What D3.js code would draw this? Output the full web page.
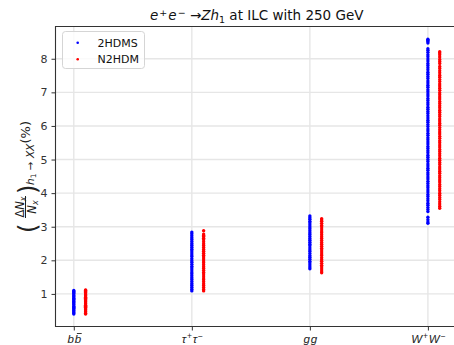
<!DOCTYPE html>
<html>
<head>
<meta charset="utf-8">
<script src="https://cdn.jsdelivr.net/npm/d3@7"></script>
<style>
  html, body { margin: 0; padding: 0; background: #fff; }
  svg { display: block; font-family: "DejaVu Sans", sans-serif; }
</style>
</head>
<body>
<svg id="chart" width="454" height="345"></svg>
<script>
// categories on the x axis (+ and − become superscripts, "~" puts a bar over the next letter)
var categories = ["b~b", "τ+τ−", "gg", "W+W−"];
var yTicks = [1, 2, 3, 4, 5, 6, 7, 8];
var seriesNames = ["2HDMS", "N2HDM"];

// 2HDMS points (%)
var hdms_bb = [0.40, 0.43, 0.46, 0.50, 0.53, 0.57, 0.60, 0.63, 0.67, 0.70, 0.74, 0.77, 0.80, 0.84, 0.87, 0.91, 0.94, 0.97, 1.01, 1.04, 1.07, 1.10];
var hdms_tautau = [1.09, 1.14, 1.20, 1.26, 1.31, 1.37, 1.43, 1.48, 1.54, 1.60, 1.65, 1.71, 1.77, 1.82, 1.88, 1.94, 1.99, 2.05, 2.11, 2.16, 2.22, 2.28, 2.33, 2.39, 2.45, 2.50, 2.56, 2.62, 2.67, 2.73, 2.79, 2.84];
var hdms_gg = [1.75, 1.80, 1.86, 1.92, 1.97, 2.03, 2.09, 2.14, 2.20, 2.26, 2.31, 2.37, 2.43, 2.48, 2.54, 2.60, 2.65, 2.71, 2.77, 2.82, 2.88, 2.94, 2.99, 3.05, 3.11, 3.16, 3.22, 3.27, 3.32];
var hdms_ww = [3.10, 3.14, 3.21, 3.28, 3.45, 3.51, 3.57, 3.64, 3.70, 3.77, 3.83, 3.90, 3.96, 4.03, 4.09, 4.16, 4.22, 4.29, 4.35, 4.42, 4.48, 4.55, 4.61, 4.68, 4.74, 4.81, 4.87, 4.94, 5.00, 5.07, 5.13, 5.20, 5.26, 5.33, 5.39, 5.46, 5.52, 5.59, 5.65, 5.72, 5.78, 5.85, 5.91, 5.98, 6.04, 6.11, 6.17, 6.24, 6.30, 6.37, 6.43, 6.50, 6.56, 6.63, 6.69, 6.76, 6.82, 6.89, 6.95, 7.02, 7.08, 7.15, 7.21, 7.28, 7.34, 7.41, 7.47, 7.54, 7.60, 7.67, 7.73, 7.80, 7.86, 7.93, 7.99, 8.06, 8.12, 8.19, 8.25, 8.30, 8.47, 8.51, 8.55, 8.58];

// N2HDM points (%)
var n2hdm_bb = [0.40, 0.42, 0.46, 0.49, 0.53, 0.56, 0.60, 0.63, 0.66, 0.70, 0.73, 0.77, 0.80, 0.83, 0.87, 0.90, 0.94, 0.97, 1.00, 1.04, 1.07, 1.10, 1.12];
var n2hdm_tautau = [1.09, 1.13, 1.19, 1.25, 1.30, 1.36, 1.42, 1.47, 1.53, 1.59, 1.64, 1.70, 1.76, 1.81, 1.87, 1.93, 1.98, 2.04, 2.10, 2.15, 2.21, 2.27, 2.32, 2.38, 2.44, 2.49, 2.55, 2.61, 2.66, 2.71, 2.74, 2.78, 2.88];
var n2hdm_gg = [1.63, 1.68, 1.74, 1.80, 1.85, 1.91, 1.97, 2.02, 2.08, 2.14, 2.19, 2.25, 2.31, 2.36, 2.42, 2.48, 2.53, 2.59, 2.65, 2.70, 2.76, 2.82, 2.87, 2.93, 2.99, 3.04, 3.10, 3.16, 3.20, 3.24];
var n2hdm_ww = [3.55, 3.61, 3.68, 3.74, 3.81, 3.87, 3.94, 4.00, 4.07, 4.13, 4.20, 4.26, 4.33, 4.39, 4.46, 4.52, 4.59, 4.65, 4.72, 4.78, 4.85, 4.91, 4.98, 5.04, 5.11, 5.17, 5.24, 5.30, 5.37, 5.43, 5.50, 5.56, 5.63, 5.69, 5.76, 5.82, 5.89, 5.95, 6.02, 6.08, 6.15, 6.21, 6.28, 6.34, 6.41, 6.47, 6.54, 6.60, 6.67, 6.73, 6.80, 6.86, 6.93, 6.99, 7.06, 7.12, 7.19, 7.25, 7.32, 7.38, 7.45, 7.51, 7.58, 7.64, 7.71, 7.77, 7.86, 7.92, 7.98, 8.05, 8.12, 8.17, 8.21];

var series = [
    {name: seriesNames[0], color: "#0000ff", offset: 0, groups: [hdms_bb, hdms_tautau, hdms_gg, hdms_ww]},
    {name: seriesNames[1], color: "#ff0000", offset: 0.1, groups: [n2hdm_bb, n2hdm_tautau, n2hdm_gg, n2hdm_ww]}
];

var svg = d3.select("#chart");
var plotL = 55.5, plotR = 458, plotT = 26.5, plotB = 326.5;

var x = d3.scaleLinear().domain([-0.155, 3.255]).range([plotL, plotR]);
var y = d3.scaleLinear().domain([0.03, 8.96]).range([plotB, plotT]);

// grid
var grid = svg.append("g").attr("stroke", "#e6e6e6").attr("stroke-width", 1.4);
grid.selectAll("line.v").data(d3.range(categories.length)).enter().append("line")
    .attr("x1", function(d) { return x(d); }).attr("x2", function(d) { return x(d); })
    .attr("y1", plotT).attr("y2", plotB);
grid.selectAll("line.h").data(yTicks).enter().append("line")
    .attr("x1", plotL).attr("x2", plotR)
    .attr("y1", function(d) { return y(d); }).attr("y2", function(d) { return y(d); });

// points
series.forEach(function(s) {
    var pts = [];
    s.groups.forEach(function(vals, i) {
        vals.forEach(function(v) { pts.push({cx: i + s.offset, v: v}); });
    });
    svg.append("g").selectAll("circle").data(pts).enter().append("circle")
        .attr("cx", function(d) { return x(d.cx); })
        .attr("cy", function(d) { return y(d.v); })
        .attr("r", 1.7)
        .attr("fill", s.color);
});

// axes
var yAxis = svg.append("g").attr("transform", "translate(" + plotL + ",0)")
    .call(d3.axisLeft(y).tickValues(yTicks).tickSize(4).tickPadding(4).tickFormat(d3.format("d")));
var xAxis = svg.append("g").attr("transform", "translate(0," + plotB + ")")
    .call(d3.axisBottom(x).tickValues(d3.range(categories.length)).tickSize(4).tickPadding(4));
xAxis.selectAll(".tick text").remove();

[yAxis, xAxis].forEach(function(a) {
    a.select(".domain").remove();
    a.selectAll(".tick line").attr("stroke", "#333").attr("stroke-width", 1);
    a.selectAll(".tick text").attr("fill", "#333").attr("font-size", 11).attr("font-family", "DejaVu Sans");
});

// math-style category labels
xAxis.selectAll(".tick").each(function(d) {
    var t = d3.select(this).append("text")
        .attr("y", 16.5)
        .attr("text-anchor", "middle")
        .attr("fill", "#222")
        .attr("font-size", 11.5)
        .attr("font-style", "italic");
    var bars = [], n = 0, barNext = false;
    Array.from(categories[d]).forEach(function(ch) {
        if (ch === "~") { barNext = true; return; }
        if (ch === "+" || ch === "−") {
            t.append("tspan").attr("font-size", 8.5).attr("font-style", "normal")
                .attr("dx", 1).attr("baseline-shift", "42%").text(ch);
        } else {
            t.append("tspan").attr("dx", n ? 0.8 : 0).text(ch);
        }
        if (barNext) { bars.push(n); barNext = false; }
        n++;
    });
    var node = t.node(), g = d3.select(this);
    bars.forEach(function(k) {
        var e = node.getExtentOfChar(k);
        g.append("line").attr("x1", e.x + 2.2).attr("x2", e.x + e.width + 0.6)
            .attr("y1", 7).attr("y2", 7).attr("stroke", "#222").attr("stroke-width", 0.9);
    });
});

// spines
svg.append("path")
    .attr("d", "M" + plotR + "," + plotT + "H" + plotL + "V" + plotB + "H" + plotR)
    .attr("fill", "none").attr("stroke", "#333").attr("stroke-width", 1.1);

// title
var title = svg.append("text").attr("x", (plotL + plotR) / 2).attr("y", 20)
    .attr("text-anchor", "middle").attr("font-size", 13.5).attr("fill", "#111");
title.append("tspan").attr("font-style", "italic").text("e");
title.append("tspan").attr("font-size", 9.5).attr("dx", 1).attr("baseline-shift", "45%").text("+");
title.append("tspan").attr("font-style", "italic").attr("dx", 1).text("e");
title.append("tspan").attr("font-size", 9.5).attr("dx", 1).attr("baseline-shift", "45%").text("−");
title.append("tspan").text(" →");
title.append("tspan").attr("font-style", "italic").text("Zh");
title.append("tspan").attr("font-size", 9.5).attr("baseline-shift", "-25%").text("1");
title.append("tspan").text(" at ILC with 250 GeV");

// y label: (ΔN_x / N_x)_{h1 → XX}(%)
var yl = svg.append("g").attr("transform", "translate(30,177) rotate(-90)").attr("fill", "#222");
yl.append("text").attr("x", -56).attr("y", 6).attr("font-size", 24).text("(");
var num = yl.append("text").attr("x", -30).attr("y", -6.5).attr("text-anchor", "middle").attr("font-size", 11.5);
num.append("tspan").text("Δ");
num.append("tspan").attr("font-style", "italic").text("N");
num.append("tspan").attr("font-style", "italic").attr("font-size", 8).attr("baseline-shift", "-25%").text("x");
yl.append("line").attr("x1", -41).attr("x2", -19).attr("y1", -4.5).attr("y2", -4.5)
    .attr("stroke", "#222").attr("stroke-width", 1);
var den = yl.append("text").attr("x", -30).attr("y", 6).attr("text-anchor", "middle").attr("font-size", 11.5);
den.append("tspan").attr("font-style", "italic").text("N");
den.append("tspan").attr("font-style", "italic").attr("font-size", 8).attr("baseline-shift", "-25%").text("x");
yl.append("text").attr("x", -17).attr("y", 6).attr("font-size", 24).text(")");
var sub = yl.append("text").attr("x", -8).attr("y", 3.5).attr("font-size", 10.5);
sub.append("tspan").attr("font-style", "italic").text("h");
sub.append("tspan").attr("font-size", 7.5).attr("baseline-shift", "-25%").text("1");
sub.append("tspan").text(" → ");
sub.append("tspan").attr("font-style", "italic").text("XX");
yl.append("text").attr("x", 56).attr("y", 0).attr("text-anchor", "end").attr("font-size", 13).text("(%)");

// legend
var lg = svg.append("g");
lg.append("rect").attr("x", 62.5).attr("y", 31.5).attr("width", 82).attr("height", 37).attr("rx", 3)
    .attr("fill", "#fff").attr("fill-opacity", 0.8).attr("stroke", "#d5d5d5").attr("stroke-width", 1);
series.forEach(function(s, i) {
    var cy = 42.7 + i * 16.6;
    lg.append("circle").attr("cx", 77.7).attr("cy", cy).attr("r", 1.3).attr("fill", s.color);
    lg.append("text").attr("x", 97.5).attr("y", cy + 4).attr("font-size", 11).attr("fill", "#111").text(s.name);
});
</script>
</body>
</html>
